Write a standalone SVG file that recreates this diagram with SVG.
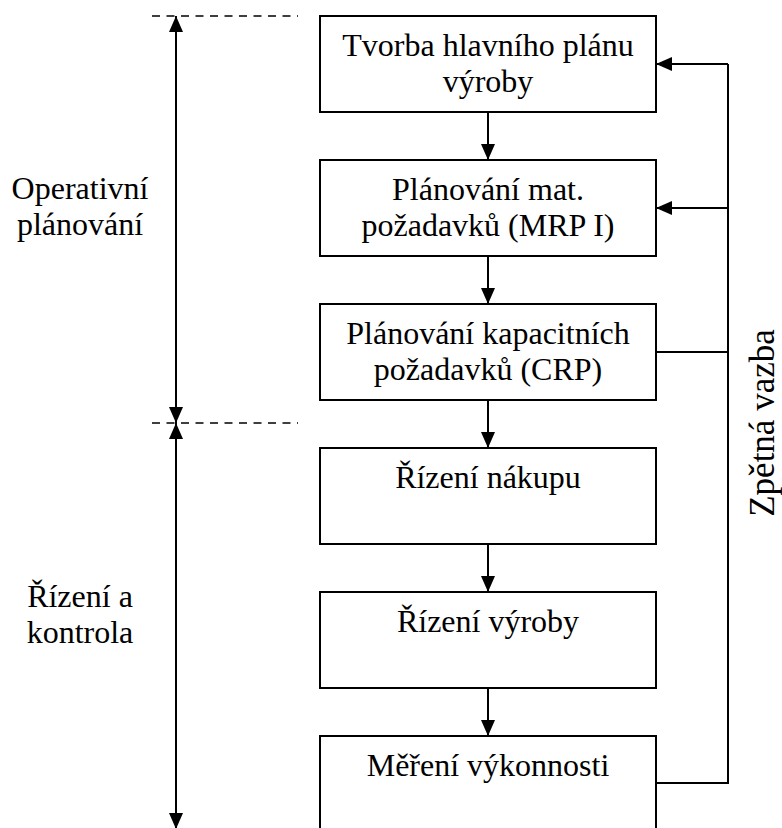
<svg xmlns="http://www.w3.org/2000/svg" width="782" height="828" viewBox="0 0 782 828">
  <style>
    text { font-family: "Liberation Serif", "Times New Roman", serif; font-size: 32px; fill: #000; }
    .c { text-anchor: middle; }
    .side { font-size: 35px; }
    .box { fill: #fff; stroke: #000; stroke-width: 2; }
    .ln { fill: none; stroke: #000; stroke-width: 2; }
    .dash { fill: none; stroke: #000; stroke-width: 1.6; stroke-dasharray: 8 6.5; }
  </style>
  <defs>
    <marker id="ah" viewBox="0 0 16 14" refX="16" refY="7" markerWidth="16" markerHeight="14" markerUnits="userSpaceOnUse" orient="auto">
      <path d="M0,0 L16,7 L0,14 Z" fill="#000"/>
    </marker>
  </defs>
  <rect width="782" height="828" fill="#fff"/>

  <!-- phase boundaries -->
  <g id="phases">
    <line class="dash" x1="152" y1="16" x2="298" y2="16"/>
    <line class="dash" x1="152" y1="423" x2="298" y2="423"/>
    <text class="c" x="80" y="199">Operativní</text>
    <text class="c" x="80" y="235">plánování</text>
    <text class="c" x="80" y="607">Řízení a</text>
    <text class="c" x="80" y="643">kontrola</text>
  </g>

  <!-- process steps -->
  <g id="n1">
    <rect class="box" x="320" y="16" width="336" height="96"/>
    <text class="c" x="488" y="56">Tvorba hlavního plánu</text>
    <text class="c" x="488" y="92">výroby</text>
  </g>
  <g id="n2">
    <rect class="box" x="320" y="160" width="336" height="96"/>
    <text class="c" x="488" y="200">Plánování mat.</text>
    <text class="c" x="488" y="236">požadavků (MRP I)</text>
  </g>
  <g id="n3">
    <rect class="box" x="320" y="304" width="336" height="96"/>
    <text class="c" x="488" y="344">Plánování kapacitních</text>
    <text class="c" x="488" y="380">požadavků (CRP)</text>
  </g>
  <g id="n4">
    <rect class="box" x="320" y="448" width="336" height="96"/>
    <text class="c" x="488" y="488">Řízení nákupu</text>
  </g>
  <g id="n5">
    <rect class="box" x="320" y="592" width="336" height="96"/>
    <text class="c" x="488" y="632">Řízení výroby</text>
  </g>
  <g id="n6">
    <rect class="box" x="320" y="736" width="336" height="96"/>
    <text class="c" x="488" y="776">Měření výkonnosti</text>
  </g>

  <!-- connectors -->
  <g id="connectors">
    <!-- phase span arrows -->
    <line class="ln" x1="176" y1="220" x2="176" y2="16" marker-end="url(#ah)"/>
    <line class="ln" x1="176" y1="220" x2="176" y2="423" marker-end="url(#ah)"/>
    <line class="ln" x1="176" y1="620" x2="176" y2="423" marker-end="url(#ah)"/>
    <line class="ln" x1="176" y1="620" x2="176" y2="829" marker-end="url(#ah)"/>
    <!-- flow between steps -->
    <line class="ln" x1="488" y1="112" x2="488" y2="160" marker-end="url(#ah)"/>
    <line class="ln" x1="488" y1="256" x2="488" y2="304" marker-end="url(#ah)"/>
    <line class="ln" x1="488" y1="400" x2="488" y2="448" marker-end="url(#ah)"/>
    <line class="ln" x1="488" y1="544" x2="488" y2="592" marker-end="url(#ah)"/>
    <line class="ln" x1="488" y1="688" x2="488" y2="736" marker-end="url(#ah)"/>
    <!-- feedback loop -->
    <polyline class="ln" points="656,783 728,783 728,64"/>
    <line class="ln" x1="656" y1="352" x2="728" y2="352"/>
    <line class="ln" x1="728" y1="64" x2="656" y2="64" marker-end="url(#ah)"/>
    <line class="ln" x1="728" y1="208" x2="656" y2="208" marker-end="url(#ah)"/>
  </g>

  <text class="c side" x="774" y="423" transform="rotate(-90 774 423)">Zpětná vazba</text>
</svg>
